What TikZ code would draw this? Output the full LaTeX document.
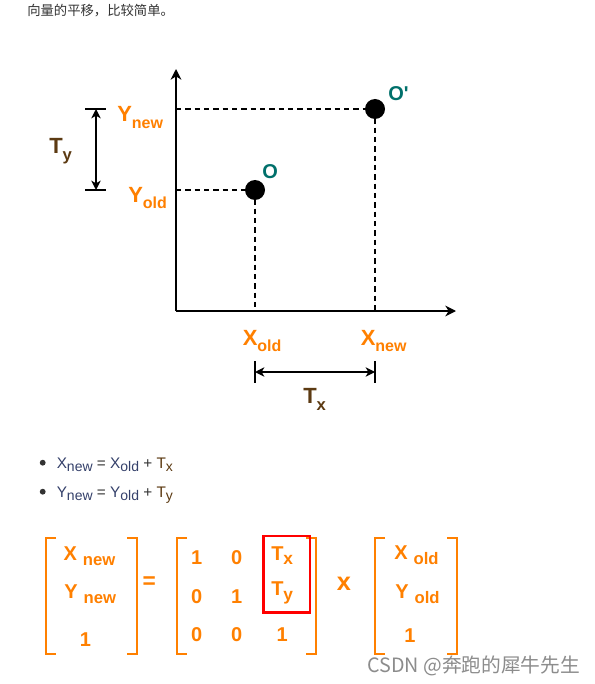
\documentclass[tikz,border=0pt]{standalone}
\usepackage{fontspec}
\setmainfont{Liberation Sans}
\newfontfamily\cjk{Noto Sans CJK SC}
\usetikzlibrary{arrows.meta}
\definecolor{orng}{HTML}{FF8000}
\definecolor{tbrown}{HTML}{5C3A12}
\definecolor{tealO}{HTML}{00706B}
\definecolor{navyx}{HTML}{34406A}
\definecolor{txtgray}{HTML}{333333}
\definecolor{wmgray}{HTML}{8C8C8C}
\newcommand{\lowsub}[3]{\raisebox{-#1}{\fontsize{#2}{#2}\selectfont #3}}
\tikzset{
  axis/.style={line width=1.5pt, -{Stealth[length=8pt,width=8pt,inset=2.5pt]}},
  dimarrow/.style={line width=1.2pt, {Stealth[length=7pt,width=7pt,inset=2pt]}-{Stealth[length=7pt,width=7pt,inset=2pt]}},
  tickline/.style={line width=1.2pt},
  guide/.style={line width=1.1pt, dash pattern=on 4pt off 3pt},
  dot/.style={circle, fill=black, inner sep=0pt, minimum size=15pt},
  lbl/.style={inner sep=0pt, anchor=base west, text=orng, font=\bfseries\fontsize{16.5pt}{17pt}\selectfont},
  tlbl/.style={lbl, text=tbrown},
  olbl/.style={inner sep=0pt, anchor=base west, text=tealO, font=\bfseries\fontsize{15pt}{16pt}\selectfont},
  bracket/.style={draw=orng, line width=1.5pt},
  ment/.style={inner sep=0pt, anchor=base, text=orng, font=\bfseries\fontsize{15pt}{16pt}\selectfont},
  mentw/.style={ment, anchor=base west},
  bullettext/.style={inner sep=0pt, anchor=base west, text=txtgray, font=\fontsize{11.5pt}{13pt}\selectfont},
}
\begin{document}
\begin{tikzpicture}[x=0.75pt,y=-0.75pt]
\path[use as bounding box, fill=white] (0,0) rectangle (594,684);

% heading
\node[inner sep=0pt, anchor=base west, text=txtgray, font=\cjk\fontsize{10pt}{11pt}\selectfont] (head) at (27,16) {向量的平移，比较简单。};

% axes
\coordinate (orig) at (176,311);
\coordinate (xend) at (456,311);
\coordinate (yend) at (176,69);
\draw[axis] (orig) -- (xend);
\draw[axis] (orig) -- (yend);

% points
\coordinate (po) at (255,190);
\coordinate (pn) at (375,109);
\draw[guide] (orig |- po) -- (po);
\draw[guide] (orig |- pn) -- (pn);
\draw[guide] (po) -- (po |- orig);
\draw[guide] (pn) -- (pn |- orig);
\node[dot] (O) at (po) {};
\node[dot] (On) at (pn) {};
\node[olbl] (Olab) at (262,178.5) {O};
\node[olbl] (Onlab) at (388,101) {O\textquotesingle};

% axis labels
\node[lbl] (ynew) at (117,122) {Y\lowsub{5pt}{12pt}{new}};
\node[lbl] (yold) at (128,202) {Y\lowsub{5pt}{12pt}{old}};
\node[lbl] (xold) at (242.5,345) {X\lowsub{5pt}{12pt}{old}};
\node[lbl] (xnew) at (360.5,345) {X\lowsub{5pt}{12pt}{new}};

% Ty dimension
\coordinate (tyTL) at (85,109);
\coordinate (tyTR) at (106,109);
\coordinate (tyBL) at (85,190);
\coordinate (tyBR) at (106,190);
\coordinate (tyT) at (96,109);
\coordinate (tyB) at (96,190);
\draw[tickline] (tyTL) -- (tyTR);
\draw[tickline] (tyBL) -- (tyBR);
\draw[dimarrow] (tyT) -- (tyB);
\node[tlbl] (Ty) at (49,153.5) {T\lowsub{5pt}{12.5pt}{y}};

% Tx dimension
\coordinate (txLT) at (255,361);
\coordinate (txLB) at (255,383);
\coordinate (txRT) at (375,361);
\coordinate (txRB) at (375,383);
\coordinate (txL) at (255,372);
\coordinate (txR) at (375,372);
\draw[tickline] (txLT) -- (txLB);
\draw[tickline] (txRT) -- (txRB);
\draw[dimarrow] (txL) -- (txR);
\node[tlbl] (Tx) at (303,403.5) {T\lowsub{5pt}{12.5pt}{x}};

% bullets
\fill[txtgray] (42.7,462.7) circle (2.2pt) coordinate (b1);
\fill[txtgray] (42.7,491.7) circle (2.2pt) coordinate (b2);
\node[bullettext] (eq1) at (56.5,468.3) {\textcolor{navyx}{X\lowsub{2.5pt}{10.5pt}{new}} = \textcolor{navyx}{X\lowsub{2.5pt}{10.5pt}{old}} + \textcolor{tbrown}{T\lowsub{2.5pt}{10.5pt}{x}}};
\node[bullettext] (eq2) at (56.5,497.3) {\textcolor{navyx}{Y\lowsub{2.5pt}{10.5pt}{new}} = \textcolor{navyx}{Y\lowsub{2.5pt}{10.5pt}{old}} + \textcolor{tbrown}{T\lowsub{2.5pt}{10.5pt}{y}}};

% matrix brackets
\coordinate (m1a) at (56,537.5); \coordinate (m1b) at (46,537.5);
\coordinate (m1c) at (46,654); \coordinate (m1d) at (56,654);
\draw[bracket] (m1a) -- (m1b) -- (m1c) -- (m1d);
\coordinate (m1e) at (127,537.5); \coordinate (m1f) at (137,537.5);
\coordinate (m1g) at (137,654); \coordinate (m1h) at (127,654);
\draw[bracket] (m1e) -- (m1f) -- (m1g) -- (m1h);

\coordinate (m2a) at (187,537.5); \coordinate (m2b) at (177,537.5);
\coordinate (m2c) at (177,654); \coordinate (m2d) at (187,654);
\draw[bracket] (m2a) -- (m2b) -- (m2c) -- (m2d);
\coordinate (m2e) at (306,537.5); \coordinate (m2f) at (316,537.5);
\coordinate (m2g) at (316,654); \coordinate (m2h) at (306,654);
\draw[bracket] (m2e) -- (m2f) -- (m2g) -- (m2h);

\coordinate (m3a) at (385,537.5); \coordinate (m3b) at (375,537.5);
\coordinate (m3c) at (375,654); \coordinate (m3d) at (385,654);
\draw[bracket] (m3a) -- (m3b) -- (m3c) -- (m3d);
\coordinate (m3e) at (447,537.5); \coordinate (m3f) at (457,537.5);
\coordinate (m3g) at (457,654); \coordinate (m3h) at (447,654);
\draw[bracket] (m3e) -- (m3f) -- (m3g) -- (m3h);

% left vector
\node[mentw] (vxn) at (63.3,560) {X\hspace{4.5pt}\lowsub{3.75pt}{12.5pt}{new}};
\node[mentw] (vyn) at (64,598.5) {Y\hspace{4.5pt}\lowsub{3.75pt}{12.5pt}{new}};
\node[ment] (v1) at (85.5,646) {1};

% equals
\node[ment, anchor=center, font=\bfseries\fontsize{17pt}{17pt}\selectfont] (eqs) at (149.3,582.7) {=};

% translation matrix
\node[ment] (a11) at (196.7,564.5) {1};
\node[ment] (a12) at (236.7,564.5) {0};
\node[mentw] (a13) at (271,560) {T\lowsub{3.5pt}{13pt}{x}};
\node[ment] (a21) at (196.7,603) {0};
\node[ment] (a22) at (236.7,603) {1};
\node[mentw] (a23) at (271,595.5) {T\lowsub{3.5pt}{13pt}{y}};
\node[ment] (a31) at (196.7,641.7) {0};
\node[ment] (a32) at (236.7,641.7) {0};
\node[ment] (a33) at (282.3,641.7) {1};

% red box
\coordinate (rb1) at (263.5,536);
\coordinate (rb2) at (310,612.5);
\draw[red, line width=1.6pt] (rb1) rectangle (rb2);

% multiply sign
\node[ment, anchor=center, font=\bfseries\fontsize{19pt}{19pt}\selectfont] (mul) at (344,584) {x};

% right vector
\node[mentw] (wxo) at (394,559.5) {X\hspace{4.5pt}\lowsub{3.75pt}{12.5pt}{old}};
\node[mentw] (wyo) at (395,598.5) {Y\hspace{4.5pt}\lowsub{3.75pt}{12.5pt}{old}};
\node[ment] (w1) at (410,642) {1};

% watermark
\node[inner sep=0pt, anchor=base west, text=wmgray, font=\cjk\fontsize{14.8pt}{15pt}\selectfont] (wm) at (367,672) {CSDN @奔跑的犀牛先生};
\end{tikzpicture}
\end{document}
